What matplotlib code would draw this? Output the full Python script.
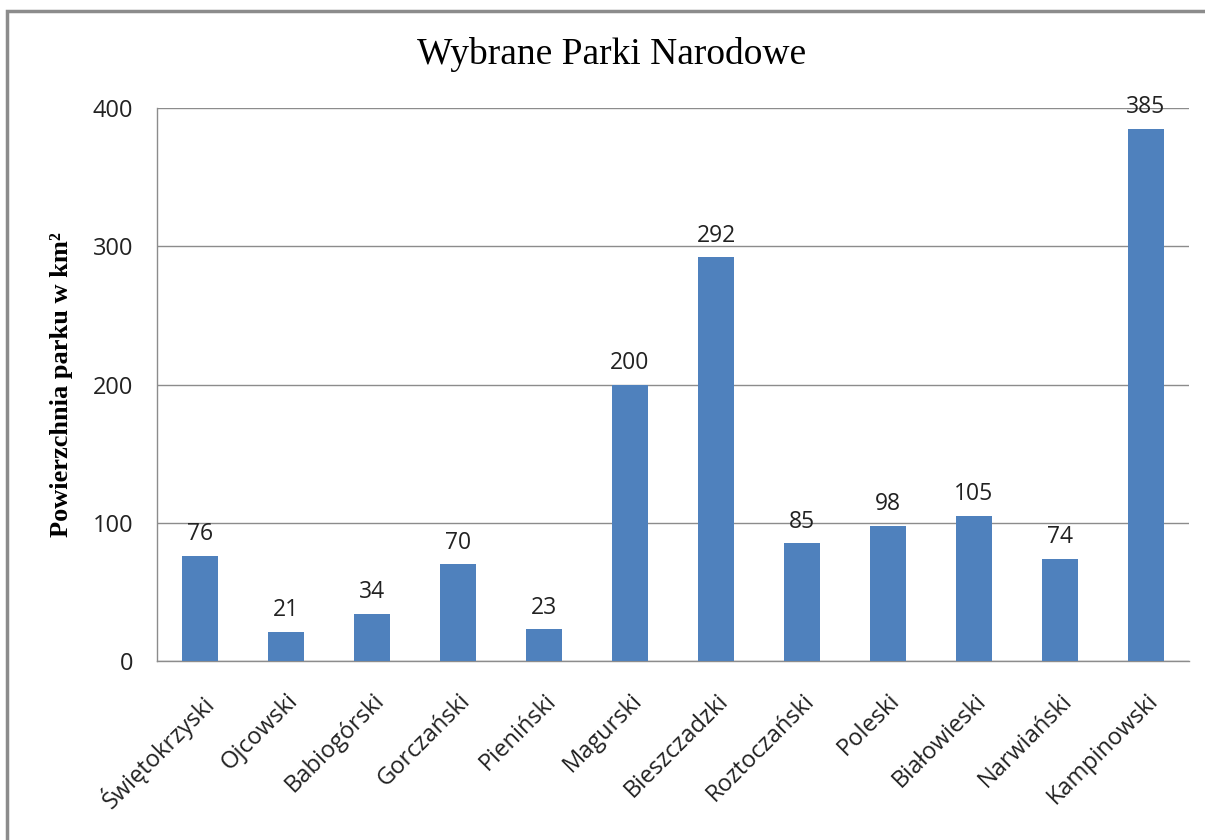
import matplotlib.pyplot as plt
from matplotlib.patches import Rectangle

parki = ['Świętokrzyski', 'Ojcowski', 'Babiogórski', 'Gorczański', 'Pieniński',
         'Magurski', 'Bieszczadzki', 'Roztoczański', 'Poleski', 'Białowieski',
         'Narwiański', 'Kampinowski']
powierzchnia = [76, 21, 34, 70, 23, 200, 292, 85, 98, 105, 74, 385]
y_ticks = [0, 100, 200, 300, 400]

fig = plt.figure(figsize=(12.05, 8.4), dpi=100)
ax = fig.add_axes([157 / 1205, 1 - 661 / 840, (1189 - 157) / 1205, (661 - 108) / 840])

# ramka wokół całego wykresu (jak w Excelu)
fig.patches.append(Rectangle((7 / 1205, -0.1), 1.2, 1 - 11 / 840 + 0.1,
                             transform=fig.transFigure, fill=False,
                             edgecolor='#8c8c8c', linewidth=2.5))

x = range(len(parki))
bars = ax.bar(x, powierzchnia, width=0.41, color='#4f81bd', zorder=3)

for b, v in zip(bars, powierzchnia):
    ax.text(b.get_x() + b.get_width() / 2, v + 7, str(v), ha='center', va='bottom',
            fontsize=16.5, family='Open Sans', color='#222222')

ax.set_xlim(-0.5, len(parki) - 0.5)
ax.set_ylim(0, 400)
ax.set_yticks(y_ticks)
ax.set_yticklabels([str(t) for t in y_ticks], family='Open Sans', fontsize=17, color='#222222')
ax.set_xticks(list(x))
ax.set_xticklabels(parki, rotation=45, ha='right', rotation_mode='anchor',
                   family='Open Sans', fontsize=17, color='#222222')
ax.tick_params(length=0, pad=20)
ax.tick_params(axis='y', pad=17)

ax.grid(axis='y', color='#8c8c8c', linewidth=1.0, zorder=0)
for s in ['top', 'right']:
    ax.spines[s].set_visible(False)
for s in ['left', 'bottom']:
    ax.spines[s].set_color('#8c8c8c')
    ax.spines[s].set_linewidth(1.0)

ax.set_ylabel('Powierzchnia parku w km²', family='Liberation Serif', fontweight='bold',
              fontsize=19, labelpad=14)
fig.text(612 / 1205, 1 - 55 / 840, 'Wybrane Parki Narodowe', ha='center', va='center',
         family='Liberation Serif', fontsize=27)

fig.savefig('out.png', dpi=100)
